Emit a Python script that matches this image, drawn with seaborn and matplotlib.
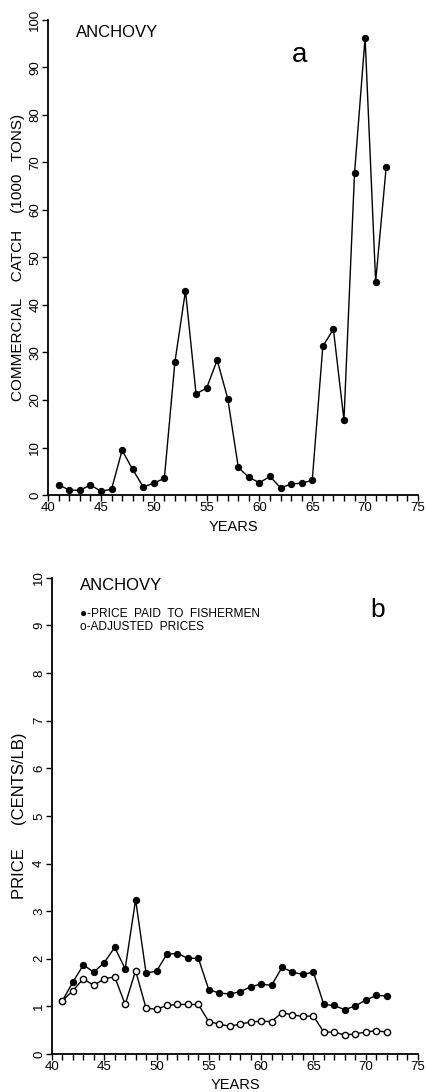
import numpy as np
import pandas as pd
import matplotlib
matplotlib.use("Agg")
import matplotlib.pyplot as plt
import seaborn as sns

# data
years = list(range(41, 73))
catch = [2.2, 1.0, 1.0, 2.1, 0.8, 1.2, 9.4, 5.4, 1.7, 2.5, 3.5, 28.0, 43.0, 21.3,
         22.5, 28.4, 20.3, 5.8, 3.7, 2.6, 3.9, 1.5, 2.3, 2.5, 3.1, 31.3, 34.9,
         15.8, 67.7, 96.3, 44.9, 69.1]
price_paid = [1.12, 1.51, 1.87, 1.72, 1.92, 2.24, 1.79, 3.24, 1.70, 1.74, 2.10, 2.11,
              2.01, 2.01, 1.35, 1.28, 1.26, 1.31, 1.41, 1.47, 1.44, 1.82, 1.72, 1.67,
              1.72, 1.04, 1.02, 0.93, 1.01, 1.13, 1.23, 1.22]
price_adj = [1.12, 1.33, 1.58, 1.44, 1.58, 1.62, 1.04, 1.75, 0.96, 0.94, 1.02, 1.04,
             1.04, 1.04, 0.68, 0.63, 0.58, 0.63, 0.67, 0.69, 0.68, 0.87, 0.82, 0.79,
             0.80, 0.46, 0.46, 0.40, 0.42, 0.46, 0.49, 0.46]

df_a = pd.DataFrame({"year": years, "catch": catch})
df_b = pd.DataFrame({"year": years, "paid": price_paid, "adj": price_adj})

sns.set_style("ticks")
plt.rcParams["font.family"] = ["Liberation Sans", "DejaVu Sans"]
plt.rcParams["text.color"] = "black"
plt.rcParams["axes.labelcolor"] = "black"
plt.rcParams["xtick.color"] = "black"
plt.rcParams["ytick.color"] = "black"

fig = plt.figure(figsize=(4.26, 10.92), dpi=100)
ax1 = fig.add_axes([0.113, 0.5467, 0.868, 0.435])
ax2 = fig.add_axes([0.122, 0.0348, 0.859, 0.436])


def style_axis(ax, ymax, ystep):
    ax.set_xlim(40, 75)
    ax.set_ylim(0, ymax)
    ax.set_xticks(range(40, 76, 5))
    ax.set_xticks(range(40, 76), minor=True)
    ax.set_yticks(np.arange(0, ymax + ystep / 2, ystep))
    ax.tick_params(axis="x", which="both", direction="out", length=4, width=1,
                   labelsize=9.5, pad=1)
    ax.tick_params(axis="y", direction="out", length=4, width=1, labelsize=9.5,
                   labelrotation=90, pad=1)
    for lab in ax.get_yticklabels():
        lab.set_va("center")
    sns.despine(ax=ax)
    for s in ["left", "bottom"]:
        ax.spines[s].set_linewidth(1.3)
        ax.spines[s].set_color("black")
    ax.set_xlabel("YEARS", fontsize=10.5, labelpad=4)


# panel a - commercial catch
sns.lineplot(data=df_a, x="year", y="catch", ax=ax1, color="black", lw=1,
             marker="o", markersize=4.5, markeredgecolor="black")
style_axis(ax1, 100, 10)
ax1.set_ylabel("COMMERCIAL    CATCH    (1000   TONS)", fontsize=11, labelpad=3)
ax1.text(0.076, 0.99, "ANCHOVY", transform=ax1.transAxes, fontsize=12, va="top")
ax1.text(0.66, 0.926, "a", transform=ax1.transAxes, fontsize=20, va="center")

# panel b - prices
sns.lineplot(data=df_b, x="year", y="paid", ax=ax2, color="black", lw=1,
             marker="o", markersize=4.5, markeredgecolor="black")
sns.lineplot(data=df_b, x="year", y="adj", ax=ax2, color="black", lw=1,
             marker="o", markersize=4.5, markerfacecolor="white",
             markeredgecolor="black", markeredgewidth=1)
style_axis(ax2, 10, 1)
ax2.set_ylabel("PRICE     (CENTS/LB)", fontsize=12, labelpad=4)
ax2.text(0.077, 1.0, "ANCHOVY", transform=ax2.transAxes, fontsize=12, va="top")
ax2.text(0.077, 0.924, "\u25cf-PRICE  PAID  TO  FISHERMEN", transform=ax2.transAxes,
         fontsize=8.6, va="center")
ax2.text(0.077, 0.897, "o-ADJUSTED  PRICES", transform=ax2.transAxes,
         fontsize=8.6, va="center")
ax2.text(0.87, 0.933, "b", transform=ax2.transAxes, fontsize=19, va="center")

fig.savefig("out.png", dpi=100)
